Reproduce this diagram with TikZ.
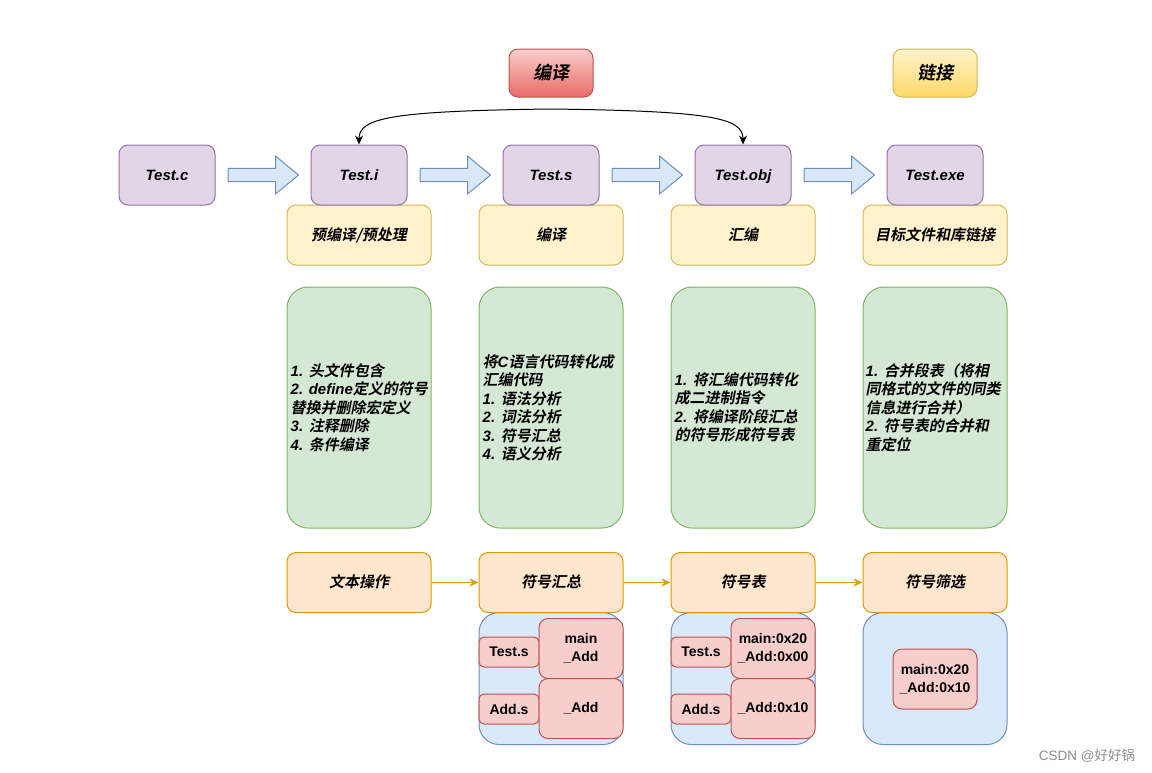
\documentclass[tikz,border=0pt]{standalone}
\usepackage{fontspec}
\setmainfont{Liberation Sans}
\newfontfamily\cjkbi{Noto Sans CJK SC Bold}[FakeSlant=0.2]
\newfontfamily\cjkr{Noto Sans CJK SC}
\usetikzlibrary{calc,arrows.meta}
\definecolor{pfill}{HTML}{E1D5E7}\definecolor{pdraw}{HTML}{9673A6}
\definecolor{yfill}{HTML}{FFF2CC}\definecolor{ydraw}{HTML}{D6B656}
\definecolor{gfill}{HTML}{D5E8D4}\definecolor{gdraw}{HTML}{82B366}
\definecolor{ofill}{HTML}{FFE6CC}\definecolor{odraw}{HTML}{D79B00}
\definecolor{bfill}{HTML}{DAE8FC}\definecolor{bdraw}{HTML}{6C8EBF}
\definecolor{rfill}{HTML}{F8CECC}\definecolor{rdraw}{HTML}{B85450}
\definecolor{rdeep}{HTML}{EA6B66}\definecolor{gold}{HTML}{FFD966}
\newcommand\C[1]{{\normalfont\cjkbi #1}}
\tikzset{
 base/.style={draw, line width=1pt, inner sep=0pt, rounded corners=9pt, text height=12pt, text depth=2pt, font=\bfseries\itshape\fontsize{15}{18.5}\selectfont},
 filebox/.style={base, fill=pfill, draw=pdraw, minimum width=96pt, minimum height=60pt},
 stagebox/.style={base, fill=yfill, draw=ydraw, minimum width=144pt, minimum height=60pt},
 descbox/.style={draw, line width=1pt, inner sep=0pt, fill=gfill, draw=gdraw, minimum width=144pt, minimum height=241pt, rounded corners=21pt},
 desctext/.style={anchor=west, align=left, inner sep=0pt, font=\bfseries\itshape\fontsize{15}{18.5}\selectfont},
 opbox/.style={base, fill=ofill, draw=odraw, minimum width=144pt, minimum height=60pt},
 symgroup/.style={draw=bdraw, fill=bfill, line width=1pt, rounded corners=20pt, minimum width=144pt, minimum height=132pt, inner sep=0pt},
 symsmall/.style={draw=rdraw, fill=rfill, line width=1pt, rounded corners=5pt, minimum width=60pt, minimum height=30pt, inner sep=0pt, font=\bfseries\fontsize{14}{18}\selectfont},
 symbig/.style={symsmall, minimum width=84pt, minimum height=60pt, rounded corners=9pt, align=center},
 phasebox/.style={base, minimum width=84pt, minimum height=48pt, text height=14pt, text depth=2pt, font=\fontsize{18}{20}\selectfont},
 barrow/.style={draw=bdraw, fill=bfill, line width=1pt, line join=miter},
 oarrow/.style={draw=odraw, line width=1pt, -{Stealth[length=9pt,width=8pt]}},
 cycarrow/.style={line width=1pt, {Stealth[length=9pt,width=8pt]}-{Stealth[length=9pt,width=8pt]}},
}
\newcommand\blockarrow[2]{%
 \path (#1.east) ++(12.5,0) coordinate (bs);
 \path (#2.west) ++(-12,0) coordinate (bt);
 \draw[barrow] ($(bs)+(0,-6.7)$) -- ($(bt)+(-23,-6.7)$) -- ($(bt)+(-23,-19)$) -- (bt)
   -- ($(bt)+(-23,19)$) -- ($(bt)+(-23,6.7)$) -- ($(bs)+(0,6.7)$) -- cycle;}
\begin{document}
\begin{tikzpicture}[x=1pt,y=-1pt]
\useasboundingbox (0,0) rectangle (1152,772);
% phase labels
\node[phasebox, draw=rdraw, top color=rfill, bottom color=rdeep] (pc) at (551,73) {\C{编译}};
\node[phasebox, draw=ydraw, top color=yfill, bottom color=gold] (pl) at (935,73) {\C{链接}};
% stage row 2 (yellow)
\node[stagebox] (s1) at (359,235) {\C{预编译/预处理}};
\node[stagebox] (s2) at (551,235) {\C{编译}};
\node[stagebox] (s3) at (743,235) {\C{汇编}};
\node[stagebox] (s4) at (935,235) {\C{目标文件和库链接}};
% files
\node[filebox] (Tc) at (167,175) {Test.c};
\node[filebox] (Ti) at (359,175) {Test.i};
\node[filebox] (Ts) at (551,175) {Test.s};
\node[filebox] (To) at (743,175) {Test.obj};
\node[filebox] (Te) at (935,175) {Test.exe};
\blockarrow{Tc}{Ti}
\blockarrow{Ti}{Ts}
\blockarrow{Ts}{To}
\blockarrow{To}{Te}
% curved arrow
\coordinate (arctop) at (551,109);
\draw[cycarrow] (Ti.north) .. controls (359,118) and (390,111) .. (arctop)
  .. controls (712,111) and (743,118) .. (To.north);
% descriptions
\node[descbox] (g1) at (359,407.5) {};
\node[descbox] (g2) at (551,407.5) {};
\node[descbox] (g3) at (743,407.5) {};
\node[descbox] (g4) at (935,407.5) {};
\node[desctext] (g1t) at ($(g1.west)+(4,0)$) {1. \C{头文件包含}\\2. define\C{定义的符号}\\\C{替换并删除宏定义}\\3. \C{注释删除}\\4. \C{条件编译}};
\node[desctext] (g2t) at ($(g2.west)+(4,0)$) {\C{将}C\C{语言代码转化成}\\\C{汇编代码}\\1. \C{语法分析}\\2. \C{词法分析}\\3. \C{符号汇总}\\4. \C{语义分析}};
\node[desctext] (g3t) at ($(g3.west)+(4,0)$) {1. \C{将汇编代码转化}\\\C{成二进制指令}\\2. \C{将编译阶段汇总}\\\C{的符号形成符号表}};
\node[desctext] (g4t) at ($(g4.west)+(3,0)$) {1. \C{合并段表（将相}\\\C{同格式的文件的同类}\\\C{信息进行合并）}\\2. \C{符号表的合并和}\\\C{重定位}};
% symbol groups
\node[symgroup] (b2) at (551,678.5) {};
\node[symgroup] (b3) at (743,678.5) {};
\node[symgroup] (b4) at (935,678.5) {};
% operations
\node[opbox] (o1) at (359,582.5) {\C{文本操作}};
\node[opbox] (o2) at (551,582.5) {\C{符号汇总}};
\node[opbox] (o3) at (743,582.5) {\C{符号表}};
\node[opbox] (o4) at (935,582.5) {\C{符号筛选}};
\draw[oarrow] (o1) -- (o2);
\draw[oarrow] (o2) -- (o3);
\draw[oarrow] (o3) -- (o4);
% symbol contents
\node[symsmall] (p2a) at (509,652) {Test.s};
\node[symbig] (p2b) at (581,648.5) {main\\\_Add};
\node[symsmall] (p2c) at (509,709) {Add.s};
\node[symbig] (p2d) at (581,708.5) {\_Add};
\node[symsmall] (p3a) at (701,652) {Test.s};
\node[symbig] (p3b) at (773,648.5) {main:0x20\\\_Add:0x00};
\node[symsmall] (p3c) at (701,709) {Add.s};
\node[symbig] (p3d) at (773,708.5) {\_Add:0x10};
\node[symbig] (p4) at (935,679) {main:0x20\\\_Add:0x10};
% watermark
\node[text=black!45, font=\fontsize{13.5}{15}\selectfont, inner sep=0pt] (wm) at (1087,756) {CSDN @{\cjkr 好好锅}};
\end{tikzpicture}
\end{document}
